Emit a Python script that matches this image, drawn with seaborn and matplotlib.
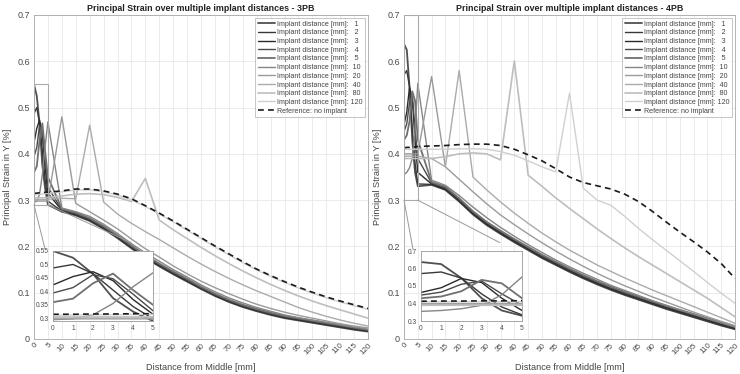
import numpy as np
import pandas as pd
import matplotlib
matplotlib.use("Agg")
import matplotlib.pyplot as plt
from matplotlib.patches import Rectangle, ConnectionPatch
from matplotlib.ticker import FuncFormatter
import seaborn as sns

# ---------------- data ----------------
x_mm = [0, 1, 2, 3, 4, 5, 10, 15, 20, 25, 30, 35, 40, 45, 50, 55, 60, 65, 70, 75,
        80, 85, 90, 95, 100, 105, 110, 115, 120]
distances = ["1", "2", "3", "4", "5", "10", "20", "40", "80", "120"]

# 3-point bending
pb3_d1 = [0.550, 0.525, 0.465, 0.375, 0.325, 0.290, 0.275, 0.267, 0.255, 0.238, 0.218, 0.196, 0.175, 0.157, 0.140, 0.124, 0.108, 0.093, 0.080, 0.069, 0.060, 0.052, 0.045, 0.040, 0.035, 0.030, 0.025, 0.020, 0.016]
pb3_d2 = [0.487, 0.500, 0.466, 0.405, 0.344, 0.298, 0.276, 0.268, 0.256, 0.239, 0.219, 0.197, 0.176, 0.158, 0.141, 0.125, 0.109, 0.094, 0.081, 0.070, 0.061, 0.053, 0.046, 0.041, 0.036, 0.031, 0.026, 0.021, 0.017]
pb3_d3 = [0.424, 0.455, 0.473, 0.440, 0.370, 0.315, 0.278, 0.270, 0.258, 0.241, 0.221, 0.199, 0.178, 0.160, 0.143, 0.127, 0.110, 0.095, 0.082, 0.071, 0.062, 0.054, 0.047, 0.042, 0.037, 0.032, 0.027, 0.022, 0.018]
pb3_d4 = [0.394, 0.414, 0.462, 0.447, 0.390, 0.328, 0.279, 0.271, 0.259, 0.242, 0.222, 0.200, 0.179, 0.161, 0.144, 0.128, 0.111, 0.096, 0.083, 0.072, 0.063, 0.055, 0.048, 0.043, 0.038, 0.033, 0.028, 0.023, 0.019]
pb3_d5 = [0.360, 0.373, 0.430, 0.466, 0.405, 0.350, 0.281, 0.273, 0.261, 0.244, 0.224, 0.202, 0.181, 0.163, 0.146, 0.130, 0.113, 0.098, 0.085, 0.074, 0.065, 0.057, 0.050, 0.045, 0.040, 0.035, 0.030, 0.025, 0.020]
pb3_d10 = [0.295, 0.298, 0.313, 0.355, 0.417, 0.469, 0.283, 0.275, 0.265, 0.248, 0.228, 0.206, 0.186, 0.168, 0.150, 0.134, 0.117, 0.102, 0.089, 0.078, 0.068, 0.060, 0.052, 0.046, 0.041, 0.036, 0.031, 0.026, 0.021]
pb3_d20 = [0.298, 0.298, 0.298, 0.298, 0.298, 0.298, 0.480, 0.293, 0.275, 0.257, 0.238, 0.216, 0.195, 0.177, 0.158, 0.141, 0.125, 0.111, 0.098, 0.086, 0.075, 0.066, 0.058, 0.051, 0.045, 0.039, 0.033, 0.028, 0.024]
pb3_d40 = [0.301, 0.301, 0.301, 0.301, 0.301, 0.302, 0.304, 0.303, 0.462, 0.296, 0.270, 0.250, 0.232, 0.215, 0.197, 0.179, 0.162, 0.146, 0.131, 0.117, 0.104, 0.092, 0.080, 0.068, 0.058, 0.049, 0.041, 0.034, 0.028]
pb3_d80 = [0.305, 0.305, 0.305, 0.305, 0.305, 0.306, 0.309, 0.313, 0.314, 0.312, 0.306, 0.297, 0.347, 0.257, 0.236, 0.217, 0.198, 0.180, 0.163, 0.147, 0.132, 0.118, 0.105, 0.093, 0.082, 0.072, 0.063, 0.054, 0.045]
pb3_d120 = [0.312, 0.312, 0.313, 0.313, 0.314, 0.315, 0.318, 0.322, 0.322, 0.318, 0.311, 0.301, 0.286, 0.270, 0.253, 0.235, 0.217, 0.199, 0.182, 0.165, 0.149, 0.135, 0.122, 0.110, 0.099, 0.089, 0.080, 0.072, 0.064]
pb3_ref = [0.315, 0.315, 0.316, 0.316, 0.317, 0.317, 0.320, 0.324, 0.324, 0.320, 0.313, 0.303, 0.288, 0.272, 0.255, 0.237, 0.219, 0.201, 0.184, 0.167, 0.151, 0.137, 0.124, 0.112, 0.101, 0.091, 0.082, 0.074, 0.066]

# 4-point bending
pb4_d1 = [0.637, 0.625, 0.545, 0.430, 0.360, 0.330, 0.333, 0.322, 0.297, 0.269, 0.246, 0.227, 0.209, 0.192, 0.175, 0.160, 0.145, 0.131, 0.118, 0.106, 0.095, 0.085, 0.075, 0.065, 0.056, 0.047, 0.038, 0.029, 0.021]
pb4_d2 = [0.571, 0.580, 0.545, 0.455, 0.380, 0.335, 0.334, 0.323, 0.298, 0.270, 0.247, 0.228, 0.210, 0.193, 0.176, 0.161, 0.146, 0.132, 0.119, 0.107, 0.096, 0.086, 0.076, 0.066, 0.057, 0.048, 0.039, 0.030, 0.022]
pb4_d3 = [0.463, 0.490, 0.543, 0.520, 0.430, 0.360, 0.335, 0.325, 0.300, 0.272, 0.249, 0.230, 0.212, 0.195, 0.178, 0.163, 0.148, 0.134, 0.121, 0.109, 0.098, 0.088, 0.078, 0.068, 0.059, 0.050, 0.041, 0.032, 0.023]
pb4_d4 = [0.448, 0.465, 0.510, 0.528, 0.455, 0.390, 0.337, 0.327, 0.302, 0.274, 0.251, 0.232, 0.214, 0.197, 0.180, 0.165, 0.150, 0.136, 0.123, 0.111, 0.100, 0.090, 0.080, 0.070, 0.061, 0.052, 0.043, 0.034, 0.025]
pb4_d5 = [0.430, 0.440, 0.470, 0.535, 0.515, 0.430, 0.339, 0.329, 0.304, 0.276, 0.253, 0.234, 0.216, 0.199, 0.182, 0.167, 0.152, 0.138, 0.125, 0.113, 0.102, 0.092, 0.082, 0.072, 0.063, 0.054, 0.045, 0.036, 0.027]
pb4_d10 = [0.355, 0.360, 0.370, 0.390, 0.450, 0.552, 0.343, 0.332, 0.310, 0.285, 0.262, 0.241, 0.222, 0.204, 0.187, 0.171, 0.156, 0.142, 0.129, 0.116, 0.105, 0.094, 0.083, 0.073, 0.063, 0.054, 0.044, 0.035, 0.026]
pb4_d20 = [0.400, 0.400, 0.400, 0.400, 0.400, 0.400, 0.567, 0.372, 0.345, 0.318, 0.292, 0.268, 0.247, 0.227, 0.208, 0.190, 0.173, 0.157, 0.142, 0.128, 0.115, 0.103, 0.091, 0.080, 0.069, 0.058, 0.048, 0.038, 0.029]
pb4_d40 = [0.395, 0.395, 0.395, 0.395, 0.395, 0.395, 0.390, 0.372, 0.580, 0.350, 0.322, 0.296, 0.272, 0.250, 0.229, 0.210, 0.192, 0.176, 0.160, 0.146, 0.132, 0.119, 0.106, 0.094, 0.082, 0.070, 0.058, 0.046, 0.034]
pb4_d80 = [0.390, 0.390, 0.390, 0.390, 0.390, 0.390, 0.390, 0.394, 0.400, 0.402, 0.400, 0.387, 0.601, 0.354, 0.330, 0.305, 0.282, 0.260, 0.238, 0.217, 0.197, 0.178, 0.160, 0.142, 0.124, 0.106, 0.088, 0.068, 0.048]
pb4_d120 = [0.410, 0.410, 0.410, 0.410, 0.410, 0.410, 0.410, 0.410, 0.411, 0.411, 0.410, 0.405, 0.397, 0.385, 0.372, 0.361, 0.531, 0.326, 0.300, 0.289, 0.265, 0.239, 0.215, 0.192, 0.169, 0.146, 0.122, 0.099, 0.077]
pb4_ref = [0.413, 0.414, 0.414, 0.415, 0.415, 0.416, 0.417, 0.418, 0.420, 0.421, 0.421, 0.418, 0.410, 0.398, 0.385, 0.368, 0.350, 0.338, 0.331, 0.324, 0.313, 0.297, 0.276, 0.253, 0.231, 0.210, 0.188, 0.163, 0.131]

pb3_series = [pb3_d1, pb3_d2, pb3_d3, pb3_d4, pb3_d5, pb3_d10, pb3_d20, pb3_d40, pb3_d80, pb3_d120]
pb4_series = [pb4_d1, pb4_d2, pb4_d3, pb4_d4, pb4_d5, pb4_d10, pb4_d20, pb4_d40, pb4_d80, pb4_d120]

# ---------------- styling ----------------
line_colors = ["#505050", "#383838", "#2a2a2a", "#4a4a4a", "#707070",
               "#858585", "#9a9a9a", "#ababab", "#bebebe", "#d0d0d0"]
line_widths = [1.3, 1.0, 1.0, 1.0, 1.3, 1.0, 1.0, 1.0, 1.2, 1.0]

sns.set_style("white")
plt.rcParams["font.family"] = ["Liberation Sans", "DejaVu Sans"]

W, H = 740, 374
fig = plt.figure(figsize=(W / 100, H / 100), dpi=100)

def frac(x0, y0, x1, y1):
    return [x0 / W, 1 - y1 / H, (x1 - x0) / W, (y1 - y0) / H]

def make_long(series, ref):
    frames = []
    for d, vals in zip(distances, series):
        frames.append(pd.DataFrame({"x": x_mm, "y": vals, "dist": d}))
    frames.append(pd.DataFrame({"x": x_mm, "y": ref, "dist": "ref"}))
    return pd.concat(frames, ignore_index=True)

gfmt = FuncFormatter(lambda v, p: f"{v:g}")
tick_col = "#4a4a4a"
spine_col = "#a8a8a8"

def draw_lines(ax, df, labels=True):
    for i, d in enumerate(distances):
        sub = df[df["dist"] == d]
        lab = f"Implant distance [mm]: {d:>3}" if labels else None
        sns.lineplot(data=sub, x="x", y="y", ax=ax, color=line_colors[i],
                     lw=line_widths[i], estimator=None, sort=False,
                     label=lab, legend=False)
    sub = df[df["dist"] == "ref"]
    sns.lineplot(data=sub, x="x", y="y", ax=ax, color="#1a1a1a", lw=1.2,
                 linestyle=(0, (3.5, 2.5)), estimator=None, sort=False,
                 label="Reference: no implant" if labels else None, legend=False)

panels = [
    ("3PB", pb3_series, pb3_ref, frac(34, 15, 368, 339), frac(53, 251, 153, 321), (0.29, 0.55),
     [0.3, 0.35, 0.4, 0.45, 0.5, 0.55], 0.29),
    ("4PB", pb4_series, pb4_ref, frac(404, 15, 735, 339), frac(421, 251, 522, 321), (0.3, 0.7),
     [0.3, 0.4, 0.5, 0.6, 0.7], 0.3),
]

for name, series, ref, pos, inpos, inylim, inyticks, rect_bot in panels:
    df = make_long(series, ref)
    ax = fig.add_axes(pos)
    draw_lines(ax, df, labels=True)
    ax.set_xlim(0, 120)
    ax.set_ylim(0, 0.7)
    ax.set_xticks(np.arange(0, 121, 5))
    ax.set_yticks(np.arange(0, 0.71, 0.1))
    ax.yaxis.set_major_formatter(gfmt)
    ax.tick_params(axis="x", labelsize=5.8, colors=tick_col, rotation=45, length=0, pad=2)
    ax.tick_params(axis="y", labelsize=6.5, colors=tick_col, length=0, pad=3)
    for lbl in ax.get_xticklabels():
        lbl.set_ha("right")
        lbl.set_rotation_mode("anchor")
    ax.grid(True, color="#e8e8e8", lw=0.6)
    ax.set_axisbelow(True)
    for s in ax.spines.values():
        s.set_color(spine_col)
        s.set_linewidth(0.6)
    ax.set_xlabel("Distance from Middle [mm]", fontsize=6.6, color="#444444", labelpad=5)
    ax.set_ylabel("Principal Strain in Y [%]", fontsize=6.6, color="#444444", labelpad=4)
    ax.set_title(f"Principal Strain over multiple implant distances - {name}",
                 fontsize=6.4, fontweight="bold", color="#222222", pad=3)
    leg = ax.legend(loc="upper right", fontsize=5.1, labelspacing=0.24, handlelength=2.4,
                    handletextpad=0.3, borderpad=0.35, borderaxespad=0.45,
                    frameon=True, fancybox=False, edgecolor="#aaaaaa")
    leg.get_frame().set_linewidth(0.6)
    for t in leg.get_texts():
        t.set_color("#444444")

    # zoom rectangle
    ax.add_patch(Rectangle((0, rect_bot), 5, inylim[1] - rect_bot, fill=False,
                           edgecolor="#aaaaaa", lw=0.8, zorder=5))

    # inset
    axin = fig.add_axes(inpos)
    axin.set_facecolor("white")
    draw_lines(axin, df, labels=False)
    axin.set_xlim(0, 5)
    axin.set_ylim(*inylim)
    axin.set_xticks(range(0, 6))
    axin.set_yticks(inyticks)
    axin.yaxis.set_major_formatter(gfmt)
    axin.tick_params(labelsize=4.8, colors=tick_col, length=1.5, width=0.4, pad=1.5)
    axin.set_xlabel("")
    axin.set_ylabel("")
    axin.grid(False)
    for s in axin.spines.values():
        s.set_color("#999999")
        s.set_linewidth(0.6)

    # connector lines
    con1 = ConnectionPatch(xyA=(0, rect_bot), coordsA=ax.transData,
                           xyB=(-0.08, 1.03), coordsB=axin.transAxes,
                           color="#999999", lw=0.7)
    con2 = ConnectionPatch(xyA=(5, rect_bot), coordsA=ax.transData,
                           xyB=(0.78, 1.12), coordsB=axin.transAxes,
                           color="#999999", lw=0.7)
    fig.add_artist(con1)
    fig.add_artist(con2)

fig.savefig("out.png", dpi=100, facecolor="white")
